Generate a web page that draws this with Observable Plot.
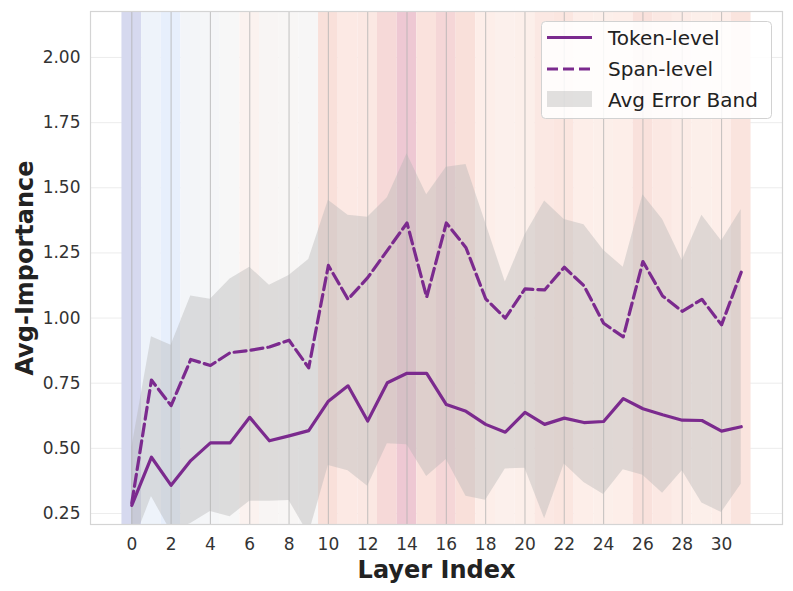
<!DOCTYPE html>
<html>
<head>
<meta charset="utf-8">
<script src="https://cdn.jsdelivr.net/npm/d3@7"></script>
<script src="https://cdn.jsdelivr.net/npm/@observablehq/plot@0.6"></script>
<style>
  html, body { margin: 0; padding: 0; background: #fff; }
  #wrap { position: relative; width: 793px; height: 591px; font-family: "DejaVu Sans", sans-serif; }
  #legend { position: absolute; left: 541px; top: 21px; }
</style>
</head>
<body>
<div id="wrap"></div>
<script>
// ---- data ----
const layers = [0,1,2,3,4,5,6,7,8,9,10,11,12,13,14,15,16,17,18,19,20,21,22,23,24,25,26,27,28,29,30,31];
const tokenLevel = [0.281,0.466,0.358,0.453,0.521,0.521,0.619,0.529,0.548,0.568,0.681,0.740,0.605,0.752,0.788,0.788,0.668,0.642,0.592,0.562,0.638,0.592,0.616,0.599,0.603,0.691,0.652,0.629,0.608,0.607,0.566,0.583];
const spanLevel  = [0.290,0.762,0.664,0.841,0.818,0.867,0.876,0.889,0.915,0.809,1.202,1.072,1.155,1.260,1.365,1.080,1.365,1.270,1.074,1.000,1.112,1.108,1.195,1.124,0.980,0.928,1.217,1.085,1.026,1.072,0.974,1.176];
const bandUpper  = [0.500,0.928,0.896,1.085,1.072,1.150,1.195,1.126,1.163,1.225,1.452,1.395,1.387,1.462,1.631,1.473,1.579,1.589,1.365,1.138,1.319,1.449,1.378,1.358,1.260,1.195,1.473,1.378,1.221,1.395,1.296,1.417];
const bandLower  = [0.120,0.315,0.180,0.212,0.258,0.238,0.297,0.297,0.300,0.170,0.434,0.414,0.355,0.518,0.514,0.392,0.457,0.316,0.301,0.421,0.424,0.230,0.440,0.369,0.323,0.418,0.397,0.328,0.414,0.290,0.254,0.362];
// per-layer background shading score (negative = cool, positive = warm)
const layerScore = [-1,-0.28,-0.5,-0.12,-0.06,0,0.3,0.12,0.06,0.03,0.8,0.6,0.62,0.86,1,0.75,0.88,0.8,0.5,0.4,0.45,0.62,0.68,0.5,0.45,0.5,0.77,0.62,0.55,0.45,0.5,0.72];
const xTicks = [0,2,4,6,8,10,12,14,16,18,20,22,24,26,28,30];
const yTicks = [0.25,0.5,0.75,1.0,1.25,1.5,1.75,2.0];
const legendLabels = ["Token-level","Span-level","Avg Error Band"];

const rows = layers.map((l, i) => ({
  layer: l, token: tokenLevel[i], span: spanLevel[i],
  hi: bandUpper[i], lo: bandLower[i], score: layerScore[i],
  x1: l - 0.5, x2: l + 0.5
}));

const purple = "#7b2a8e";

const chart = Plot.plot({
  width: 793,
  height: 591,
  marginLeft: 90,
  marginRight: 11,
  marginTop: 11,
  marginBottom: 67,
  style: { fontFamily: "DejaVu Sans, sans-serif", fontSize: "17px", color: "#333", background: "#fff" },
  x: { domain: [-2.1, 33.1] },
  y: { domain: [0.2078, 2.1765] },
  color: {
    type: "linear",
    domain: [-1, -0.5, 0, 0.5, 0.8, 1],
    range: ["#d6d9ef", "#e7effc", "#f7f7f7", "#fdeee9", "#f9e0da", "#eec8d3"],
    interpolate: "rgb",
    clamp: true
  },
  marks: [
    Plot.gridY(yTicks, { stroke: "#e8e8e8", strokeOpacity: 1, strokeWidth: 0.8 }),
    Plot.rect(rows, { x1: "x1", x2: "x2", fill: "score", inset: 0 }),
    Plot.areaY(rows, { x: "layer", y1: "lo", y2: "hi", fill: "#b4b4b4", fillOpacity: 0.4, clip: true }),
    Plot.gridX(xTicks, { stroke: "#b0b0b0", strokeOpacity: 0.7, strokeWidth: 1.1 }),
    Plot.line(rows, { x: "layer", y: "token", stroke: purple, strokeWidth: 3.2 }),
    Plot.line(rows, { x: "layer", y: "span", stroke: purple, strokeWidth: 3.2, strokeDasharray: "12,5" }),
    Plot.frame({ stroke: "#d4d4d4", strokeWidth: 1.2 }),
    Plot.axisX(xTicks, { tickSize: 0, tickPadding: 13, label: null, fontSize: 17, fill: "#333" }),
    Plot.axisY(yTicks, { tickSize: 0, tickPadding: 10, label: null, tickFormat: d3.format(".2f"), fontSize: 17, fill: "#333" }),
    Plot.text(["Avg-Importance"], { frameAnchor: "left", textAnchor: "middle", lineAnchor: "middle", dx: -65, rotate: -90, fontSize: 24, fontWeight: "bold", fill: "#222" }),
    Plot.text(["Layer Index"], { frameAnchor: "bottom", textAnchor: "middle", lineAnchor: "middle", dy: 46, fontSize: 24, fontWeight: "bold", fill: "#222" })
  ]
});

const wrap = document.getElementById("wrap");
wrap.appendChild(chart);

// legend
const lg = d3.create("svg").attr("id", "legend").attr("width", 232).attr("height", 99)
  .style("font-family", "DejaVu Sans, sans-serif");
lg.append("rect").attr("x", 0.5).attr("y", 0.5).attr("width", 230).attr("height", 97)
  .attr("rx", 4).attr("fill", "rgba(255,255,255,0.85)").attr("stroke", "#d2d2d2");
lg.append("line").attr("x1", 6).attr("x2", 51).attr("y1", 16.5).attr("y2", 16.5)
  .attr("stroke", purple).attr("stroke-width", 3.2);
lg.append("line").attr("x1", 6).attr("x2", 51).attr("y1", 48).attr("y2", 48)
  .attr("stroke", purple).attr("stroke-width", 3.2).attr("stroke-dasharray", "11,5");
lg.append("rect").attr("x", 6).attr("y", 70).attr("width", 45).attr("height", 16)
  .attr("fill", "#b4b4b4").attr("fill-opacity", 0.4);
[16.5, 48, 78.5].forEach((y, i) => {
  lg.append("text").attr("x", 67).attr("y", y).attr("dy", "0.36em")
    .attr("font-size", 20).attr("fill", "#222").text(legendLabels[i]);
});
wrap.appendChild(lg.node());
</script>
</body>
</html>
